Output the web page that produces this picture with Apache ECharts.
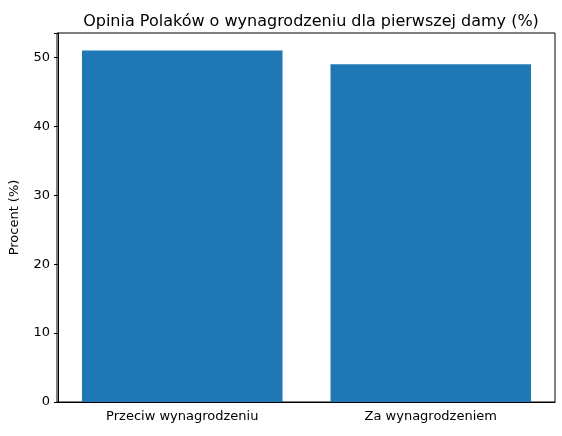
<!DOCTYPE html>
<html><head><meta charset="utf-8">
<script src="https://cdn.jsdelivr.net/npm/echarts@6/dist/echarts.min.js"></script>
<style>html,body{margin:0;padding:0;background:#fff}#c{width:562px;height:436px}</style>
</head><body><div id="c"></div>
<script>
const categories = ["Przeciw wynagrodzeniu", "Za wynagrodzeniem"];
const values = [51, 49];
const yTicks = [0, 10, 20, 30, 40, 50];
const chart = echarts.init(document.getElementById('c'));
const font = 'DejaVu Sans';
chart.setOption({
  animation: false,
  title: { text: 'Opinia Polaków o wynagrodzeniu dla pierwszej damy (%)', left: 306, top: 9, textAlign: 'center',
    textStyle: { fontFamily: font, fontSize: 16, fontWeight: 'normal', color: '#000' } },
  grid: { left: 57, right: 7, top: 33, bottom: 34 },
  xAxis: { type: 'category', data: categories,
    axisLine: { lineStyle: { color: '#000' } },
    axisTick: { alignWithLabel: true, lineStyle: { color: '#000' }, length: 4 },
    axisLabel: { fontFamily: font, fontSize: 13, color: '#000', margin: 8 } },
  yAxis: { type: 'value', min: 0, max: 53.55, interval: 10,
    name: 'Procent (%)', nameLocation: 'middle', nameGap: 37,
    nameTextStyle: { fontFamily: font, fontSize: 13, color: '#000' },
    axisLine: { show: true, lineStyle: { color: '#000' } },
    axisTick: { show: true, length: 4, lineStyle: { color: '#000' } },
    splitLine: { show: false },
    axisLabel: { fontFamily: font, fontSize: 13, color: '#000', margin: 8,
      formatter: v => yTicks.includes(v) ? String(v) : '' } },
  series: [{ type: 'bar', data: values, barWidth: '80.7%', itemStyle: { color: '#1f77b4' } }]
});
// top/right spines
chart.setOption({ graphic: [{ type: 'rect', shape: { x: 57, y: 33, width: 498, height: 369 },
  style: { fill: 'none', stroke: '#000', lineWidth: 1 }, silent: true }] });
</script></body></html>
